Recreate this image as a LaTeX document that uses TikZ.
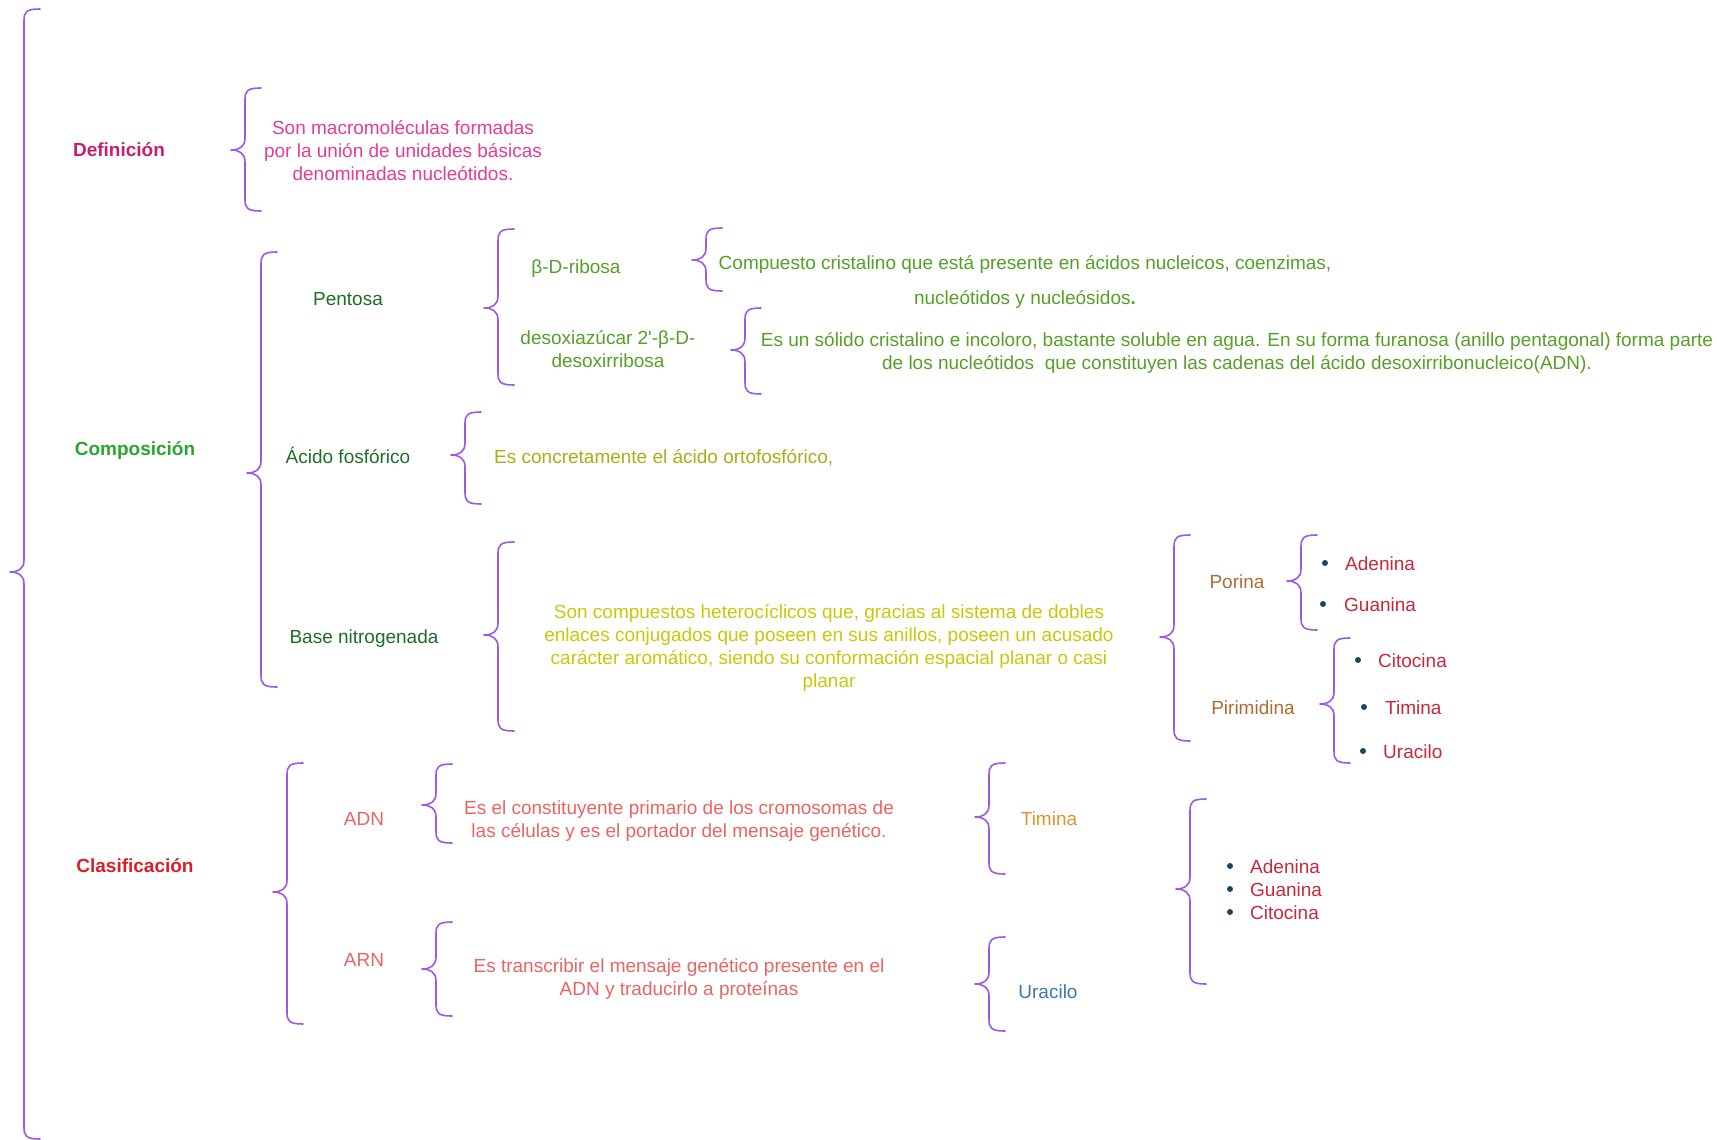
\documentclass[tikz,border=0pt]{standalone}
\usepackage{fontspec}
\setmainfont{Liberation Sans}
\definecolor{brc}{RGB}{155,90,225}
\definecolor{defc}{RGB}{200,30,110}
\definecolor{deftx}{RGB}{230,60,150}
\definecolor{compc}{RGB}{40,165,50}
\definecolor{dgreen}{RGB}{30,110,40}
\definecolor{lgreen}{RGB}{85,160,40}
\definecolor{olive}{RGB}{165,175,25}
\definecolor{yel}{RGB}{200,200,10}
\definecolor{brown}{RGB}{170,110,50}
\definecolor{crim}{RGB}{200,40,60}
\definecolor{dotc}{RGB}{30,70,90}
\definecolor{clasc}{RGB}{220,30,40}
\definecolor{coral}{RGB}{235,100,100}
\definecolor{tim}{RGB}{220,150,40}
\definecolor{urac}{RGB}{60,120,170}
\tikzset{
  brace line/.style={draw=brc, line width=1.6pt, line cap=round, line join=round},
  lbl/.style={inner sep=0pt, yshift=-3pt, font=\fontsize{19}{22.5}\selectfont, text height=13.5pt, text depth=4pt},
  blbl/.style={lbl, font=\fontsize{19}{22.5}\selectfont\bfseries},
  para/.style={inner sep=0pt, yshift=-3pt, font=\fontsize{19}{23}\selectfont, align=center},
  bdot/.style={circle, fill=dotc, inner sep=0pt, minimum size=6pt},
}
\newcommand\cbr[4]{%
  \draw[brace line] ({#1+16},#2) .. controls ({#1+2},#2) and (#1,{#2+3}) .. (#1,{#2+12})
    -- (#1,{#3-12}) .. controls (#1,{#3-3}) and ({#1-6},#3) .. ({#1-14},#3)
    .. controls ({#1-6},#3) and (#1,{#3+3}) .. (#1,{#3+12})
    -- (#1,{#4-12}) .. controls (#1,{#4-3}) and ({#1+2},#4) .. ({#1+16},#4);
}
\begin{document}
\begin{tikzpicture}[x=1pt,y=-1pt]
\fill[white] (0,0) rectangle (1717,1140);
\useasboundingbox (0,0) rectangle (1717,1140);

% braces
\cbr{24}{9}{572}{1139}
\cbr{245}{88}{150}{211}
\cbr{261}{252}{473}{687}
\cbr{498}{229}{308}{385}
\cbr{706}{228}{260}{291}
\cbr{745}{308}{350}{394}
\cbr{465}{412}{455}{504}
\cbr{498}{542}{635}{731}
\cbr{1174}{535}{637}{741}
\cbr{1301}{535}{581}{630}
\cbr{1334}{638}{704}{763}
\cbr{287}{763}{892}{1024}
\cbr{436}{764}{805}{843}
\cbr{436}{922}{969}{1016}
\cbr{989}{763}{817}{874}
\cbr{989}{937}{984}{1031}
\cbr{1190}{799}{889}{984}

% Definición
\node[blbl, text=defc] (def) at (119,149) {Definición};
\node[para, text=deftx] (deftext) at (403,148) {Son macromoléculas formadas\\por la unión de unidades básicas\\denominadas nucleótidos.};

% Composición
\node[blbl, text=compc] (comp) at (135,448) {Composición};
\node[lbl, text=dgreen] (pent) at (348,298) {Pentosa};
\node[lbl, text=dgreen] (acid) at (348,456) {Ácido fosfórico};
\node[lbl, text=dgreen] (base) at (364,636) {Base nitrogenada};
\node[lbl, text=lgreen] (ribo) at (576,266) {β-D-ribosa};
\node[para, text=lgreen] (desoxi) at (608,346) {desoxiazúcar 2\textquotesingle-β-D-\\desoxirribosa};
\node[para, text=lgreen, font=\fontsize{19}{35}\selectfont] (ribotext) at (1025,279) {Compuesto cristalino que está presente en ácidos nucleicos, coenzimas,\\nucleótidos y nucleósidos\textbf{.}};
\node[para, text=lgreen] (desoxitext) at (1237,350) {Es un sólido cristalino e incoloro, bastante soluble en agua. En su forma furanosa (anillo pentagonal) forma parte\\de los nucleótidos\ \ que constituyen las cadenas del ácido desoxirribonucleico(ADN).};
\node[lbl, text=olive, anchor=west] (acidtext) at (494,456) {Es concretamente el ácido ortofosfórico,};
\node[para, text=yel] (basetext) at (829,645) {Son compuestos heterocíclicos que, gracias al sistema de dobles\\enlaces conjugados que poseen en sus anillos, poseen un acusado\\carácter aromático, siendo su conformación espacial planar o casi\\planar};
\node[lbl, text=brown] (por) at (1237,581) {Porina};
\node[lbl, text=brown] (pir) at (1253,707) {Pirimidina};
\node[bdot] (d1) at (1325,563) {};
\node[lbl, text=crim, anchor=west] (ade) at (1345,563) {Adenina};
\node[bdot] (d2) at (1323,604) {};
\node[lbl, text=crim, anchor=west] (gua) at (1344,604) {Guanina};
\node[bdot] (d3) at (1358,660) {};
\node[lbl, text=crim, anchor=west] (cit) at (1378,660) {Citocina};
\node[bdot] (d4) at (1364,707) {};
\node[lbl, text=crim, anchor=west] (timp) at (1385,707) {Timina};
\node[bdot] (d5) at (1363,751) {};
\node[lbl, text=crim, anchor=west] (urap) at (1383,751) {Uracilo};

% Clasificación
\node[blbl, text=clasc] (clas) at (135,865) {Clasificación};
\node[lbl, text=coral] (adn) at (364,818) {ADN};
\node[lbl, text=coral] (arn) at (364,959) {ARN};
\node[para, text=coral] (adntext) at (679,818) {Es el constituyente primario de los cromosomas de\\las células y es el portador del mensaje genético.};
\node[para, text=coral] (arntext) at (679,976) {Es transcribir el mensaje genético presente en el\\ADN y traducirlo a proteínas};
\node[lbl, text=tim] (tim2) at (1049,818) {Timina};
\node[lbl, text=urac] (ura2) at (1048,991) {Uracilo};
\node[bdot] (e1) at (1230,866) {};
\node[lbl, text=crim, anchor=west] (ade2) at (1250,866) {Adenina};
\node[bdot] (e2) at (1230,889) {};
\node[lbl, text=crim, anchor=west] (gua2) at (1250,889) {Guanina};
\node[bdot] (e3) at (1230,912) {};
\node[lbl, text=crim, anchor=west] (cit2) at (1250,912) {Citocina};
\end{tikzpicture}
\end{document}
